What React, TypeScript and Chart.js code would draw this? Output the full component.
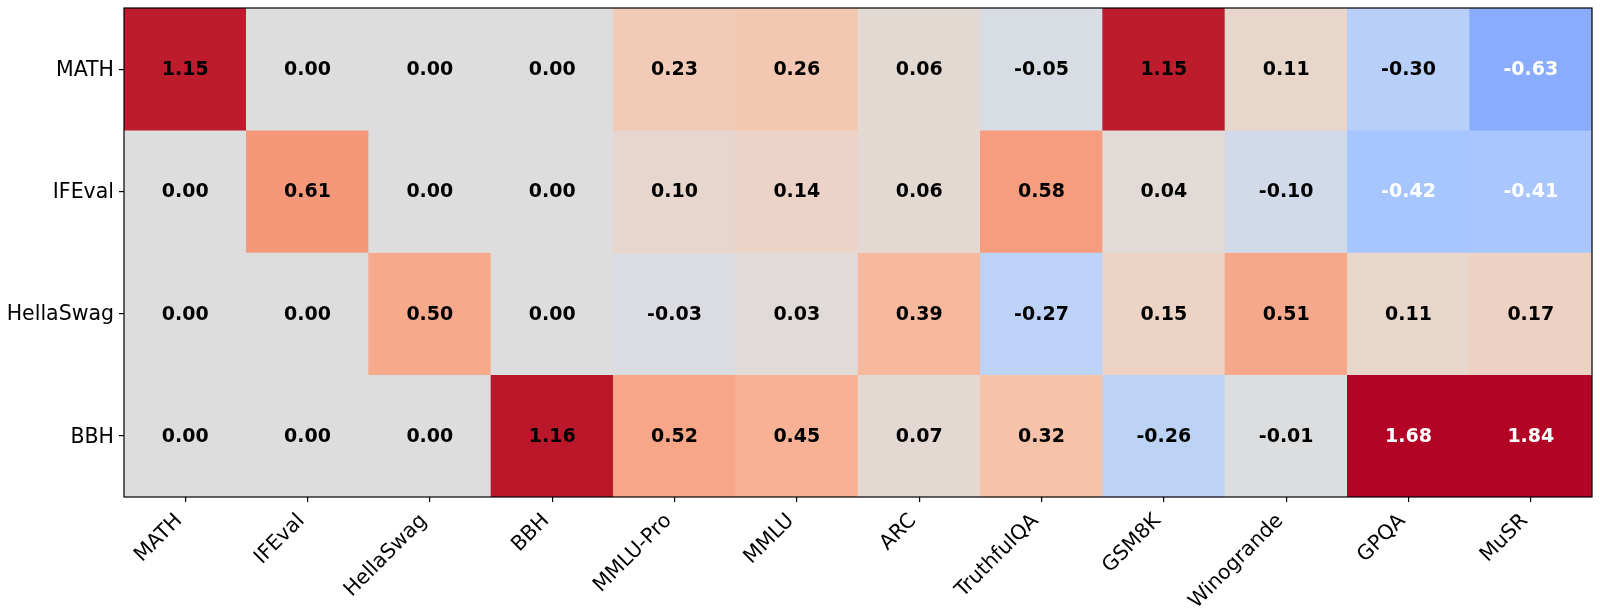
import React, { useEffect, useRef } from "react";
import { Chart, registerables } from "chart.js";

Chart.register(...registerables);

const rowLabels = ["MATH", "IFEval", "HellaSwag", "BBH"];
const colLabels = ["MATH", "IFEval", "HellaSwag", "BBH", "MMLU-Pro", "MMLU", "ARC", "TruthfulQA", "GSM8K", "Winogrande", "GPQA", "MuSR"];

const mathRow = [1.15, 0.0, 0.0, 0.0, 0.23, 0.26, 0.06, -0.05, 1.15, 0.11, -0.3, -0.63];
const ifevalRow = [0.0, 0.61, 0.0, 0.0, 0.1, 0.14, 0.06, 0.58, 0.04, -0.1, -0.42, -0.41];
const hellaswagRow = [0.0, 0.0, 0.5, 0.0, -0.03, 0.03, 0.39, -0.27, 0.15, 0.51, 0.11, 0.17];
const bbhRow = [0.0, 0.0, 0.0, 1.16, 0.52, 0.45, 0.07, 0.32, -0.26, -0.01, 1.68, 1.84];

const matrix = [mathRow, ifevalRow, hellaswagRow, bbhRow];

const vMin = -1.2;
const vMax = 1.2;

// matplotlib "coolwarm" anchor colours (33 evenly spaced)
const coolwarm: number[][] = [
  [59, 76, 192], [68, 90, 204], [77, 104, 215], [87, 117, 225], [98, 130, 234], [108, 142, 241],
  [119, 154, 247], [130, 165, 251], [141, 176, 254], [152, 185, 255], [163, 194, 255], [174, 201, 253],
  [184, 208, 249], [194, 213, 244], [204, 217, 238], [213, 219, 230], [221, 221, 221], [229, 216, 209],
  [236, 211, 197], [241, 204, 185], [245, 196, 173], [247, 187, 160], [247, 177, 148], [247, 166, 135],
  [244, 154, 123], [241, 141, 111], [236, 127, 99], [229, 112, 88], [222, 96, 77], [213, 80, 66],
  [203, 62, 56], [192, 40, 47], [180, 4, 38],
];

function colorFor(v: number): string {
  let t = (v - vMin) / (vMax - vMin);
  t = Math.max(0, Math.min(1, t));
  const pos = t * (coolwarm.length - 1);
  const i = Math.min(Math.floor(pos), coolwarm.length - 2);
  const f = pos - i;
  const a = coolwarm[i];
  const b = coolwarm[i + 1];
  const c = a.map((x, k) => Math.round(x + (b[k] - x) * f));
  return `rgb(${c[0]},${c[1]},${c[2]})`;
}

function textColorFor(v: number): string {
  return v < -0.35 || v > 1.5 ? "#ffffff" : "#000000";
}

const cellTextPlugin = {
  id: "cellText",
  afterDatasetsDraw(chart: any) {
    const { ctx, scales } = chart;
    const xs = scales.x;
    const ys = scales.y;
    ctx.save();
    ctx.font = "bold 19px 'DejaVu Sans'";
    ctx.textAlign = "center";
    ctx.textBaseline = "middle";
    matrix.forEach((row, i) => {
      row.forEach((v, j) => {
        const x = xs.getPixelForValue(j);
        const y = ys.getPixelForValue(i + 0.5);
        ctx.fillStyle = textColorFor(v);
        ctx.fillText(v.toFixed(2), x, y + 1);
      });
    });
    ctx.restore();
  },
};

const framePlugin = {
  id: "frame",
  afterDraw(chart: any) {
    const { ctx, chartArea } = chart;
    ctx.save();
    ctx.strokeStyle = "#000000";
    ctx.lineWidth = 1.2;
    ctx.strokeRect(chartArea.left, chartArea.top, chartArea.right - chartArea.left, chartArea.bottom - chartArea.top);
    ctx.restore();
  },
};

export default function App() {
  const canvasRef = useRef<HTMLCanvasElement | null>(null);

  useEffect(() => {
    if (!canvasRef.current) return;
    Chart.defaults.font.family = "'DejaVu Sans'";
    const datasets = matrix.map((row, i) => ({
      label: rowLabels[i],
      data: row.map(() => [i, i + 1]),
      backgroundColor: row.map((v) => colorFor(v)),
      borderWidth: 0,
      barPercentage: 1,
      categoryPercentage: 1,
      grouped: false,
    }));
    const chart = new Chart(canvasRef.current, {
      type: "bar",
      data: { labels: colLabels, datasets: datasets as any },
      options: {
        animation: false,
        responsive: true,
        maintainAspectRatio: false,
        layout: { padding: { top: 8, right: 8, left: 0, bottom: 0 } },
        plugins: { legend: { display: false }, tooltip: { enabled: false } },
        scales: {
          x: {
            type: "category",
            offset: true,
            border: { display: false },
            grid: { offset: false, drawOnChartArea: false, drawTicks: true, tickLength: 5, color: "#000000", lineWidth: 1.2 },
            ticks: {
              autoSkip: false,
              maxRotation: 45,
              minRotation: 45,
              color: "#000000",
              padding: 7,
              labelOffset: -6,
              font: { size: 20.5, family: "'DejaVu Sans'" },
            },
            afterFit(scale: any) {
              scale.height = 113;
              scale.paddingLeft = 0;
              scale.paddingRight = 0;
            },
          },
          y: {
            type: "linear",
            min: 0,
            max: 4,
            reverse: true,
            border: { display: false },
            grid: { drawOnChartArea: false, drawTicks: true, tickLength: 5, color: "#000000", lineWidth: 1.2 },
            afterBuildTicks(scale: any) {
              scale.ticks = rowLabels.map((_, i) => ({ value: i + 0.5 }));
            },
            ticks: {
              color: "#000000",
              padding: 5,
              labelOffset: 1.5,
              font: { size: 20.5, family: "'DejaVu Sans'" },
              callback: (v: any) => rowLabels[Math.floor(Number(v))] ?? "",
            },
            afterFit(scale: any) {
              scale.width = 124;
              scale.paddingTop = 0;
              scale.paddingBottom = 0;
            },
          },
        },
      },
      plugins: [cellTextPlugin, framePlugin],
    });
    return () => chart.destroy();
  }, []);

  return (
    <div style={{ position: "fixed", left: 0, top: 0, width: 1600, height: 610, background: "#ffffff" }}>
      <canvas ref={canvasRef} />
    </div>
  );
}
